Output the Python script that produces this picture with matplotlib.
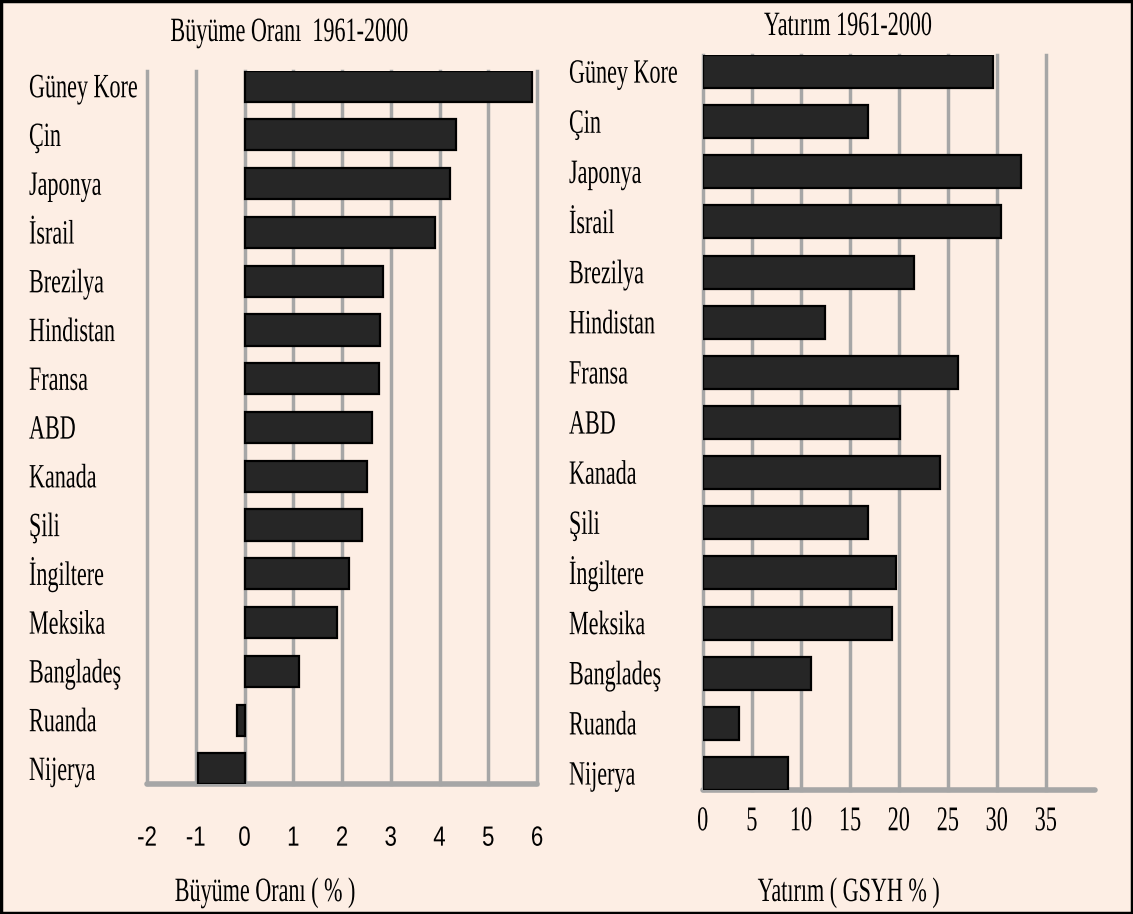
import matplotlib.pyplot as plt
from matplotlib import font_manager, patheffects, transforms
from matplotlib.patches import Rectangle

# veriler (alttan üste: Nijerya -> Güney Kore)
ulkeler = ["Nijerya", "Ruanda", "Bangladeş", "Meksika", "İngiltere", "Şili", "Kanada",
           "ABD", "Fransa", "Hindistan", "Brezilya", "İsrail", "Japonya", "Çin", "Güney Kore"]
buyume = [-0.95, -0.16, 1.11, 1.9, 2.14, 2.42, 2.51, 2.61, 2.75, 2.77, 2.85, 3.91, 4.22, 4.33, 5.9]
yatirim = [8.7, 3.7, 11.0, 19.3, 19.7, 16.9, 24.2, 20.1, 26.1, 12.5, 21.6, 30.4, 32.5, 16.9, 29.6]

buyume_ticks = [-2, -1, 0, 1, 2, 3, 4, 5, 6]
yatirim_ticks = [0, 5, 10, 15, 20, 25, 30, 35]

arka = "#fdeee4"
bar_renk = "#262626"
izgara = "#a6a6a6"

serif = "Liberation Serif"
names = {f.name for f in font_manager.fontManager.ttflist}
sans = "Liberation Sans Narrow" if "Liberation Sans Narrow" in names else "Liberation Sans"


# Orijinaldeki dar (condensed) yazıyı taklit etmek için yazıyı yatayda sıkıştıran efekt
class Sikistir(patheffects.AbstractPathEffect):
    def __init__(self, sx, anchor="left"):
        super().__init__()
        self.sx = sx
        self.anchor = anchor

    def draw_path(self, renderer, gc, tpath, affine, rgbFace=None):
        if self.anchor == "left":
            x0 = affine.transform((0, 0))[0]
        else:
            ext = tpath.get_extents(affine)
            x0 = (ext.x0 + ext.x1) / 2
        yeni = affine + transforms.Affine2D().translate(-x0, 0).scale(self.sx, 1).translate(x0, 0)
        renderer.draw_path(gc, tpath, yeni, rgbFace)


dar_sol = [Sikistir(0.65, "left")]
dar_orta = [Sikistir(0.65, "center")]

fig = plt.figure(figsize=(11.33, 9.14), dpi=100, facecolor=arka)
fig.patches.append(Rectangle((0.001, 0.001), 0.998, 0.998, transform=fig.transFigure,
                             fill=False, edgecolor="black", linewidth=2.5, zorder=10))

y = list(range(len(ulkeler)))


def eksen_ayarla(ax):
    ax.set_facecolor(arka)
    ax.grid(axis="x", color=izgara, linewidth=2.5, zorder=0)
    for line in ax.get_xgridlines():
        line.set_clip_on(False)
    ax.set_yticks([])
    for s in ["top", "right", "left"]:
        ax.spines[s].set_visible(False)
    ax.spines["bottom"].set_color(izgara)
    ax.spines["bottom"].set_linewidth(4)
    ax.spines["bottom"].set_capstyle("round")


def etiketler(ax, xpos):
    tr = transforms.offset_copy(ax.get_yaxis_transform(), fig=fig, y=-8, units="points")
    for i, u in enumerate(ulkeler):
        ax.text(xpos, i, u, transform=tr, ha="left", va="baseline",
                fontfamily=serif, fontsize=24.5, path_effects=dar_sol)


# 1) Büyüme oranı
ax1 = fig.add_axes([147/1133, 1-784/914, 390/1133, 713/914])
ax1.barh(y, buyume, height=0.64, color=bar_renk, edgecolor="black", linewidth=1.6, zorder=3)
ax1.set_xlim(-2, 6)
ax1.set_ylim(-0.31, 14.31)
ax1.set_xticks(buyume_ticks)
ax1.set_xticklabels([str(t) for t in buyume_ticks], fontfamily=sans, fontsize=20)
for t in ax1.get_xticklabels():
    t.set_path_effects([Sikistir(0.8, "center")])
ax1.tick_params(axis="x", length=0, pad=30)
eksen_ayarla(ax1)
etiketler(ax1, (29 - 147) / 390)

# 2) Yatırım
ax2 = fig.add_axes([702.7/1133, 1-790/914, 392/1133, 735/914])
ax2.barh(y, yatirim, height=0.66, color=bar_renk, edgecolor="black", linewidth=1.6, zorder=3)
ax2.set_xlim(0, 40)
ax2.set_ylim(-0.33, 14.33)
ax2.set_xticks(yatirim_ticks)
ax2.set_xticklabels([str(t) for t in yatirim_ticks], fontfamily=serif, fontsize=25)
for t in ax2.get_xticklabels():
    t.set_path_effects([Sikistir(0.64, "center")])
ax2.tick_params(axis="x", length=0, pad=11)
eksen_ayarla(ax2)
etiketler(ax2, (569 - 702.7) / 392)

# başlıklar ve eksen adları
fig.text(289/1133, 1-41/914, "Büyüme Oranı  1961-2000", ha="center", va="baseline",
         fontfamily=serif, fontsize=24.5, path_effects=dar_orta)
fig.text(848/1133, 1-35/914, "Yatırım 1961-2000", ha="center", va="baseline",
         fontfamily=serif, fontsize=24.5, path_effects=dar_orta)
fig.text(265/1133, 1-901/914, "Büyüme Oranı ( % )", ha="center", va="baseline",
         fontfamily=serif, fontsize=24.5, path_effects=dar_orta)
fig.text(849/1133, 1-901/914, "Yatırım ( GSYH % )", ha="center", va="baseline",
         fontfamily=serif, fontsize=24.5, path_effects=dar_orta)

fig.savefig("out.png", dpi=100, facecolor=arka)
